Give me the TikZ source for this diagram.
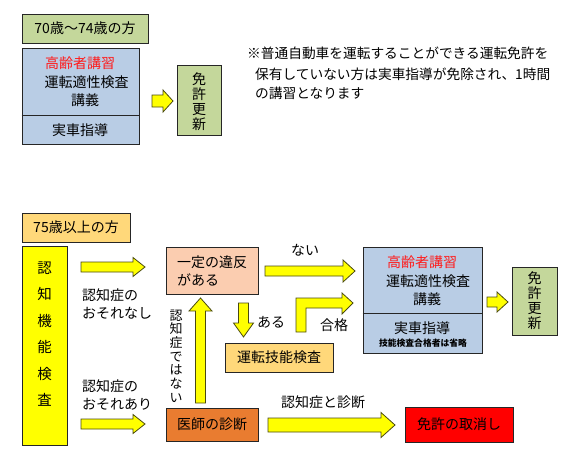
\documentclass[tikz,border=0pt]{standalone}
\usepackage{fontspec}
\setmainfont{Noto Sans CJK JP}
\definecolor{cGreen}{HTML}{C4D79B}
\definecolor{cBlue}{HTML}{B9CDE5}
\definecolor{cGold}{HTML}{FFD87A}
\definecolor{cPeach}{HTML}{FBCDB0}
\definecolor{cOrange}{HTML}{E97C30}
\definecolor{cRed}{HTML}{FF0000}
\definecolor{cYellow}{HTML}{FFFF00}
\definecolor{cTitle}{HTML}{FF1A1A}
\definecolor{cArrowLine}{HTML}{4A4A10}
\newcommand\blkR[6]{\draw[barrow] (#1,{#3-#4}) -- ({#2-#6},{#3-#4}) -- ({#2-#6},{#3-#5}) -- (#2,#3) -- ({#2-#6},{#3+#5}) -- ({#2-#6},{#3+#4}) -- (#1,{#3+#4}) -- cycle;}
\newcommand\blkU[6]{\draw[barrow] ({#1-#4},#2) -- ({#1-#4},{#3+#6}) -- ({#1-#5},{#3+#6}) -- (#1,#3) -- ({#1+#5},{#3+#6}) -- ({#1+#4},{#3+#6}) -- ({#1+#4},#2) -- cycle;}
\newcommand\blkD[6]{\draw[barrow] ({#1-#4},#2) -- ({#1-#4},{#3-#6}) -- ({#1-#5},{#3-#6}) -- (#1,#3) -- ({#1+#5},{#3-#6}) -- ({#1+#4},{#3-#6}) -- ({#1+#4},#2) -- cycle;}
\begin{document}
\begin{tikzpicture}[x=1pt,y=-1pt,
  box/.style={draw=black!85, line width=0.8pt, inner sep=0pt, font=\fontsize{14}{16}\selectfont},
  txt/.style={inner sep=0pt, font=\fontsize{14}{16}\selectfont},
  vtxt/.style={inner sep=0pt, align=center, font=\fontsize{14}{15}\selectfont},
  note/.style={inner sep=0pt, anchor=west, font=\fontsize{13.7}{16}\selectfont},
  barrow/.style={fill=cYellow, draw=cArrowLine, line width=0.8pt, line join=miter}]
\useasboundingbox (0,0) rectangle (577,461);
\fill[white] (0,0) rectangle (577,461);

% ---------- top section ----------
\node[box, fill=cGreen, minimum width=126pt, minimum height=29pt] (age1) at (85,28.5) {70歳～74歳の方};
\node[box, fill=cBlue, minimum width=117pt, minimum height=96pt] (course1) at (80.5,96) {};
\draw[draw=black!85, line width=0.8pt] (course1.west |- 0,115) -- (course1.east |- 0,115);
\node[txt, text=cTitle] (c1a) at (80,63) {高齢者講習};
\node[txt] (c1b) at (86.5,82) {運転適性検査};
\node[txt] (c1c) at (85,100) {講義};
\node[txt] (c1d) at (80,130) {実車指導};
\node[box, fill=cGreen, minimum width=44pt, minimum height=70pt] (renew1) at (199,100) {};
\node[vtxt] (renew1t) at (199,102) {免\\許\\更\\新};
\blkR{152}{173}{101}{6}{11}{10}

\node[note] (n1) at (247,53) {※普通自動車を運転することができる運転免許を};
\node[note] (n2) at (255,74) {保有していない方は実車指導が免除され、1時間};
\node[note] (n3) at (255,93) {の講習となります};

% ---------- bottom section ----------
\node[box, fill=cGold, minimum width=108pt, minimum height=29pt] (age2) at (76,227.5) {75歳以上の方};
\node[box, fill=cYellow, minimum width=45pt, minimum height=199pt] (test) at (44.5,345.5) {};
\node[inner sep=0pt, align=center, font=\fontsize{14.5}{26.4}\selectfont] (testt) at (44.5,334) {認\\知\\機\\能\\検\\査};

\blkR{81}{145}{267}{5}{9.5}{12}
\blkR{81}{145}{424}{5}{9.5}{12}
\node[txt, anchor=west, align=left, font=\fontsize{14}{18}\selectfont] (l1) at (82,304) {認知症の\\おそれなし};
\node[txt, anchor=west, align=left, font=\fontsize{14}{18}\selectfont] (l2) at (82,395) {認知症の\\おそれあり};

\node[box, fill=cPeach, minimum width=92pt, minimum height=47pt] (viol) at (212,270.5) {};
\node[txt, anchor=west, align=left, font=\fontsize{14}{18}\selectfont] (violt) at (177,271) {一定の違反\\がある};
\node[box, fill=cOrange, minimum width=92pt, minimum height=33pt] (doc) at (212,424.5) {医師の診断};

\blkU{200.5}{403}{298}{5}{11.5}{13}
\node[inner sep=0pt, align=center, font=\fontsize{13}{13.7}\selectfont] (notdem) at (176,356) {認\\知\\症\\で\\は\\な\\い};

\blkD{243.5}{303}{337}{5}{10}{14}
\node[txt] (aru) at (271,322) {ある};
\node[box, fill=cGold, minimum width=108pt, minimum height=29pt] (skill) at (279,357.5) {運転技能検査};

\node[txt] (nai) at (305,250) {ない};
\blkR{265}{355}{271}{5}{11}{12}

\draw[barrow] (296,332) -- (296,298) -- (342,298) -- (342,293) -- (353,303) -- (342,314) -- (342,308) -- (306,308) -- (306,332) -- cycle;
\node[txt] (pass) at (334,325) {合格};

\node[box, fill=cBlue, minimum width=119pt, minimum height=106pt] (course2) at (422.5,300) {};
\draw[draw=black!85, line width=0.8pt] (course2.west |- 0,313) -- (course2.east |- 0,313);
\node[txt, text=cTitle] (c2a) at (422,262) {高齢者講習};
\node[txt] (c2b) at (428,281) {運転適性検査};
\node[txt] (c2c) at (427,299) {講義};
\node[txt] (c2d) at (422,328) {実車指導};
\node[inner sep=0pt, font=\fontsize{8.8}{10}\selectfont\bfseries] (c2e) at (423,343) {技能検査合格者は省略};

\blkR{487}{508}{302}{5}{10}{11}
\node[box, fill=cGreen, minimum width=45pt, minimum height=68pt] (renew2) at (534.5,301) {};
\node[vtxt] (renew2t) at (534.5,301) {免\\許\\更\\新};

\node[txt] (diag) at (323,402) {認知症と診断};
\blkR{268}{395}{425}{7}{12.5}{14}
\node[box, fill=cRed, minimum width=108pt, minimum height=35pt] (revoke) at (459,424.5) {免許の取消し};
\end{tikzpicture}
\end{document}
